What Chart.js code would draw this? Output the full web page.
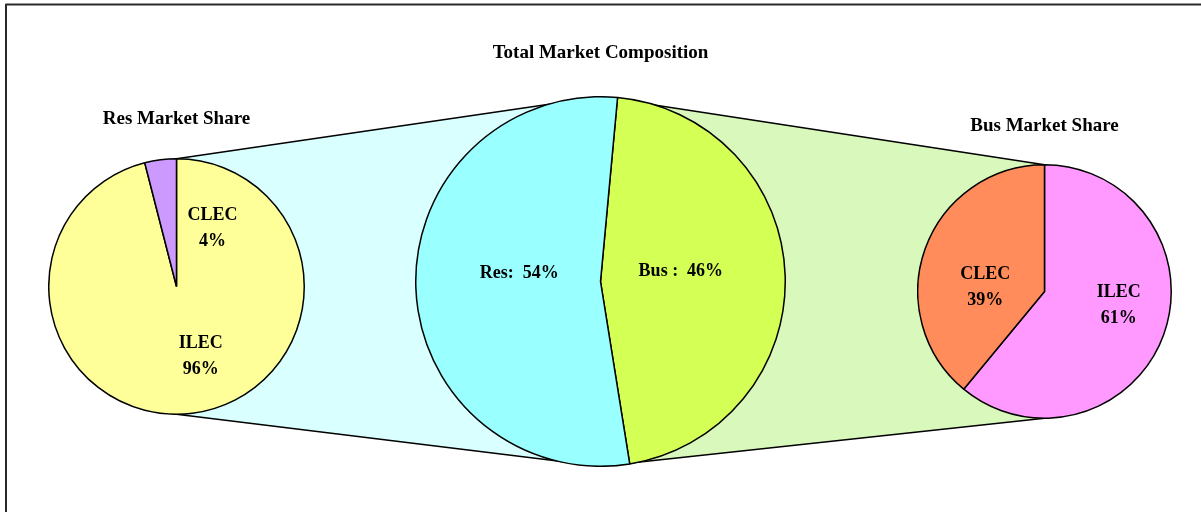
<!DOCTYPE html>
<html>
<head>
<meta charset="utf-8">
<script src="https://cdn.jsdelivr.net/npm/chart.js@4.4.1/dist/chart.umd.min.js"></script>
<style>
html, body { margin: 0; padding: 0; background: #fff; overflow: hidden; }
#wrap { position: relative; width: 1201px; height: 512px; }
#bg { position: absolute; left: 0; top: 0; }
.pie { position: absolute; }
</style>
</head>
<body>
<div id="wrap">
  <canvas id="bg" width="1201" height="512"></canvas>
  <div class="pie" id="pLeft" style="left:48px;top:108px;width:257px;height:307px;"><canvas id="cLeft"></canvas></div>
  <div class="pie" id="pCenter" style="left:415px;top:42px;width:371px;height:425px;"><canvas id="cCenter"></canvas></div>
  <div class="pie" id="pRight" style="left:917px;top:115px;width:255px;height:304px;"><canvas id="cRight"></canvas></div>
</div>
<script>
// ---- data ----
const resCategories = ['ILEC', 'CLEC'];
const resShare = [96, 4];
const totalCategories = ['Bus', 'Res'];
const totalShare = [46, 54];
const busCategories = ['ILEC', 'CLEC'];
const busShare = [61, 39];

const titles = ['Res Market Share', 'Total Market Composition', 'Bus Market Share'];

// ---- styles ----
const FONT = '"Liberation Serif", "Times New Roman", serif';
const resColors = ['#FFFF99', '#CC99FF'];
const totalColors = ['#D4FF55', '#99FFFF'];
const busColors = ['#FF99FF', '#FF8C5A'];

function makeLabelPlugin(pos, format) {
  return {
    id: 'sliceLabels',
    afterDatasetsDraw(chart) {
      const ctx = chart.ctx;
      const a = chart.getDatasetMeta(0).data[0];
      const cx = a.x, cy = a.y, r = a.outerRadius;
      const ds = chart.data.datasets[0];
      ctx.save();
      ctx.font = 'bold 18px ' + FONT;
      ctx.fillStyle = '#000';
      ctx.textAlign = 'center';
      ctx.textBaseline = 'middle';
      const gap = 26;
      chart.data.labels.forEach((lab, i) => {
        const lines = format(lab, ds.data[i]);
        const x = cx + pos[i][0] * r;
        const y0 = cy + pos[i][1] * r - (lines.length - 1) * gap / 2;
        lines.forEach((t, k) => ctx.fillText(t, x, y0 + k * gap));
      });
      ctx.restore();
    }
  };
}

function pieConfig(labels, values, colors, title, bottomPad, plugin, rotation) {
  return {
    type: 'pie',
    data: {
      labels: labels,
      datasets: [{
        data: values,
        backgroundColor: colors,
        borderColor: '#000',
        borderWidth: 1.5,
        hoverBorderWidth: 1.5,
        hoverOffset: 0,
        offset: 0
      }]
    },
    options: {
      responsive: true,
      maintainAspectRatio: false,
      animation: false,
      events: [],
      rotation: rotation,
      layout: { padding: 0 },
      plugins: {
        legend: { display: false },
        tooltip: { enabled: false },
        title: {
          display: true,
          text: title,
          color: '#000',
          font: { family: FONT, size: 19, weight: 'bold' },
          padding: { top: 0, bottom: bottomPad }
        }
      }
    },
    plugins: [plugin]
  };
}

const twoLine = (lab, v) => [lab, v + '%'];
const oneLine = (lab, v) => [lab + (lab === 'Bus' ? ' :' : ':') + '  ' + v + '%'];

const chartLeft = new Chart(document.getElementById('cLeft'),
  pieConfig(resCategories, resShare, resColors, titles[0], 27.2,
    makeLabelPlugin([[0.19, 0.548], [0.281, -0.457]], twoLine), 0));
const chartCenter = new Chart(document.getElementById('cCenter'),
  pieConfig(totalCategories, totalShare, totalColors, titles[1], 31.2,
    makeLabelPlugin([[0.435, -0.057], [-0.44, -0.044]], oneLine), 5.3));
const chartRight = new Chart(document.getElementById('cRight'),
  pieConfig(busCategories, busShare, busColors, titles[2], 26.2,
    makeLabelPlugin([[0.585, 0.112], [-0.468, -0.03]], twoLine), 0));

// ---- background: frame + connectors, from the charts' own arc geometry ----
function geom(chart, id) {
  const el = document.getElementById(id);
  const a = chart.getDatasetMeta(0).data[0];
  return { x: el.offsetLeft + a.x, y: el.offsetTop + a.y, r: a.outerRadius };
}
function drawBackground() {
  const L = geom(chartLeft, 'pLeft');
  const C = geom(chartCenter, 'pCenter');
  const R = geom(chartRight, 'pRight');
  const ctx = document.getElementById('bg').getContext('2d');
  ctx.clearRect(0, 0, 1201, 512);
  ctx.lineJoin = 'round';
  function poly(pts, fill) {
    ctx.beginPath();
    ctx.moveTo(pts[0][0], pts[0][1]);
    for (let i = 1; i < pts.length; i++) ctx.lineTo(pts[i][0], pts[i][1]);
    ctx.closePath();
    ctx.fillStyle = fill;
    ctx.fill();
    ctx.strokeStyle = '#000';
    ctx.lineWidth = 1.5;
    ctx.stroke();
  }
  poly([[L.x, L.y - L.r], [C.x, C.y - C.r], [C.x, C.y + C.r], [L.x, L.y + L.r]], '#D9FFFF');
  poly([[C.x, C.y - C.r], [R.x, R.y - R.r], [R.x, R.y + R.r], [C.x, C.y + C.r]], '#D9F8BB');
  ctx.strokeStyle = '#2a2a2a';
  ctx.lineWidth = 2;
  ctx.strokeRect(6, 4.5, 1400, 800);
}
drawBackground();
</script>
</body>
</html>
